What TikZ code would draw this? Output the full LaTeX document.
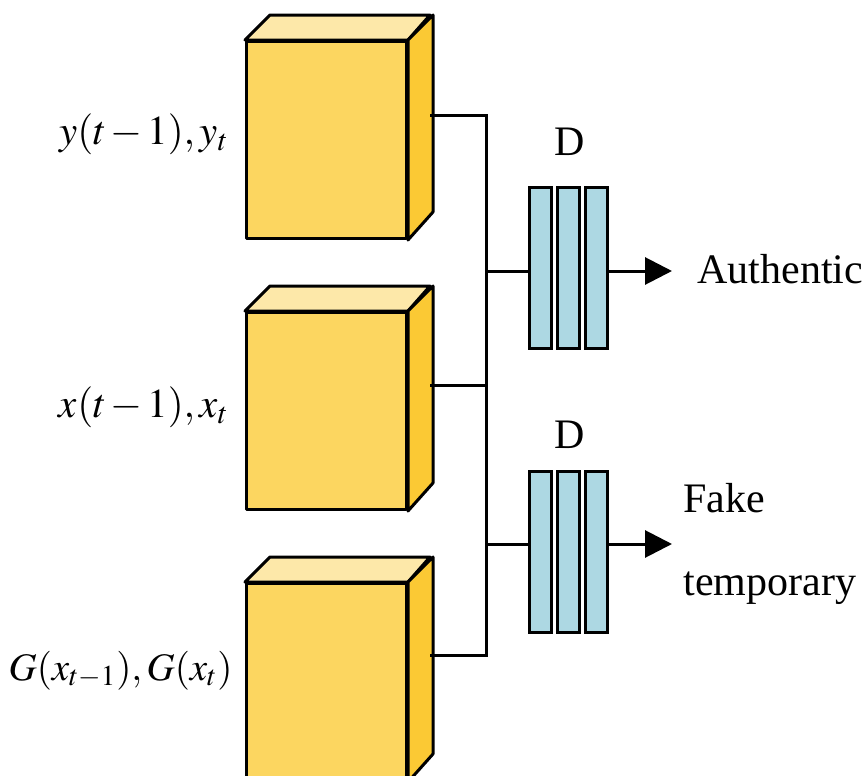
\documentclass[tikz,border=0pt]{standalone}
\usepackage{mathptmx}
\usepackage[no-math]{fontspec}
\setmainfont{Liberation Serif}
\usetikzlibrary{arrows.meta}

\definecolor{cubefront}{HTML}{FCD660}
\definecolor{cubetop}{HTML}{FDE8A9}
\definecolor{cubeside}{HTML}{FBC934}
\definecolor{dbar}{HTML}{ADD8E3}

\tikzset{
  frontface/.style={draw, line width=1.5pt, fill=cubefront, inner sep=0pt,
    minimum width=80pt, minimum height=98.5pt, line join=round},
  topface/.style={draw, line width=1.5pt, fill=cubetop, line join=round},
  sideface/.style={draw, line width=1.5pt, fill=cubeside, line join=round},
  dlayer/.style={draw, line width=1.5pt, fill=dbar, inner sep=0pt,
    minimum width=11pt, minimum height=80.5pt},
  wire/.style={line width=1.5pt},
  outarrow/.style={line width=1.5pt, -{Triangle[length=13.5pt,width=13.5pt]}},
  lbl/.style={font=\fontsize{21}{25}\selectfont, inner sep=0pt},
  mlbl/.style={font=\fontsize{20.5}{24}\selectfont, inner sep=0pt},
  glbl/.style={font=\fontsize{19.5}{24}\selectfont, inner sep=0pt},
}

% a box drawn as a front face node plus a top and a right face
\newcommand{\boxthreed}[3]{%
  \node[frontface, anchor=north west] (#1) at (#2,#3) {};
  \draw[topface] (#1.north west) -- ++(25,-25) -- ++(160,0) -- (#1.north east) -- cycle;
  \draw[sideface] (#1.north east) -- ++(25,-25) -- ++(0,197) -- (#1.south east) -- cycle;
}

\begin{document}
\begin{tikzpicture}[x=0.5pt, y=-0.5pt]
  \clip (0,0) rectangle (864,776);
  \fill[white] (0,0) rectangle (864,776);

  % three input cubes
  \boxthreed{cy}{245}{40}
  \boxthreed{cx}{245}{311}
  \boxthreed{cg}{245}{582}

  % outputs of the cubes on their right faces
  \coordinate (oy) at (430,115);
  \coordinate (ox) at (430,385);
  \coordinate (og) at (430,655);
  \coordinate (by) at (486,115);
  \coordinate (bx) at (486,385);
  \coordinate (bg) at (486,655);

  % discriminators
  \node[dlayer] (d1a) at (540.5,267.5) {};
  \node[dlayer] (d1b) at (568.5,267.5) {};
  \node[dlayer] (d1c) at (596.5,267.5) {};
  \node[dlayer] (d2a) at (540.5,551.5) {};
  \node[dlayer] (d2b) at (568.5,551.5) {};
  \node[dlayer] (d2c) at (596.5,551.5) {};

  \node[lbl] (dl1) at (570,142) {D};
  \node[lbl] (dl2) at (570,435) {D};

  \coordinate (j1) at (486,271);
  \coordinate (j2) at (486,544);
  \coordinate (e1) at (672,271);
  \coordinate (e2) at (672,544);

  % bus from the cubes to both discriminators
  \draw[wire] (oy) -- (by) -- (bg) -- (og);
  \draw[wire] (ox) -- (bx);
  \draw[wire] (j1) -- (d1a.west |- j1);
  \draw[wire] (j2) -- (d2a.west |- j2);
  \draw[outarrow] (d1c.east |- j1) -- (e1);
  \draw[outarrow] (d2c.east |- j2) -- (e2);

  % outputs
  \node[lbl, anchor=base west] (auth) at (697,283) {Authentic};
  \node[lbl, anchor=base west] (fake) at (683,512) {Fake};
  \node[lbl, anchor=base west] (temp) at (683,595) {temporary};

  % inputs
  \node[mlbl, anchor=base east] (ly) at (229,144)
    {$\medmuskip=2mu y(t-1), y_t$};
  \node[mlbl, anchor=base east] (lx) at (229,417)
    {$\medmuskip=2mu x(t-1), x_t$};
  \node[glbl, anchor=base east] (lg) at (233,680)
    {$\medmuskip=2mu G(x_{t-1}), G(x_t)$};
\end{tikzpicture}
\end{document}
